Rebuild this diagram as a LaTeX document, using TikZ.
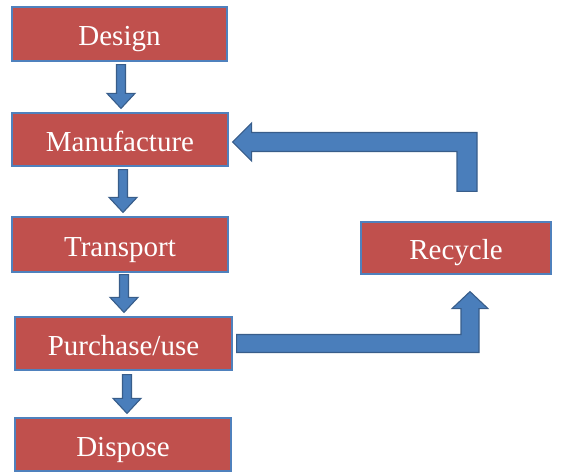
\documentclass[tikz,border=0pt]{standalone}
\usepackage{fontspec}
\setmainfont{Liberation Serif}
\usetikzlibrary{calc}
\definecolor{boxred}{HTML}{C0504D}
\definecolor{boxblue}{HTML}{4F81BD}
\definecolor{arrowfill}{HTML}{4A7EBB}
\definecolor{arrowline}{HTML}{385D8A}
\tikzset{
  stagebox/.style={draw=boxblue, line width=1.2pt, fill=boxred, text=white,
    inner sep=0pt, text height=26pt, text depth=3pt,
    font=\fontsize{29}{34}\selectfont},
  blockarrow/.style={draw=arrowline, fill=arrowfill, line width=1.1pt, line join=miter}
}
% #1 from node, #2 to node, #3 name of start coordinate (already placed)
\newcommand\downblock[3]{%
  \coordinate (#3e) at ($(#3|-#2.north)+(0,-4)$);
  \draw[blockarrow] ($(#3)+(-4.5,0)$) -- ($(#3)+(4.5,0)$)
    -- ($(#3e)+(4.5,-15)$) -- ($(#3e)+(14,-15)$)
    -- (#3e) -- ($(#3e)+(-14,-15)$)
    -- ($(#3e)+(-4.5,-15)$) -- cycle;}
\begin{document}
\begin{tikzpicture}[x=1pt,y=-1pt]
\useasboundingbox (0,0) rectangle (566,472);
\node[stagebox, minimum width=215pt, minimum height=54pt] (design) at (119.5,34) {Design};
\node[stagebox, minimum width=216pt, minimum height=53pt] (manu) at (120,139.5) {Manufacture};
\node[stagebox, minimum width=216pt, minimum height=55pt] (trans) at (120,244.5) {Transport};
\node[stagebox, minimum width=217pt, minimum height=53pt] (purch) at (123.5,343.5) {Purchase/use};
\node[stagebox, minimum width=216pt, minimum height=53pt] (disp) at (123,444.5) {Dispose};
\node[stagebox, minimum width=190pt, minimum height=52pt] (rec) at (456,248) {Recycle};
\coordinate (d1) at ($(design.south)+(1.5,3)$);
\downblock{design}{manu}{d1}
\coordinate (d2) at ($(manu.south)+(3,3)$);
\downblock{manu}{trans}{d2}
\coordinate (d3) at ($(trans.south)+(4,2)$);
\downblock{trans}{purch}{d3}
\coordinate (d4) at ($(purch.south)+(3.5,4)$);
\downblock{purch}{disp}{d4}
% Recycle -> Manufacture
\coordinate (ta) at ($(rec.north)+(11,-30)$);
\coordinate (tb) at ($(manu.east)+(4,2.5)$);
\draw[blockarrow] ($(ta)+(-10,0)$) -- ($(ta)+(10,0)$) -- ($(ta|-tb)+(10,-9.5)$)
  -- ($(tb)+(19,-9.5)$) -- ($(tb)+(19,-19)$) -- (tb) -- ($(tb)+(19,19)$)
  -- ($(tb)+(19,9.5)$) -- ($(ta|-tb)+(-10,9.5)$) -- cycle;
% Purchase/use -> Recycle
\coordinate (bs) at ($(purch.east)+(4,0)$);
\coordinate (be) at ($(rec.south)+(14,17)$);
\draw[blockarrow] ($(bs)+(0,-9)$) -- ($(be|-bs)+(-9,-9)$) -- ($(be)+(-9,17)$)
  -- ($(be)+(-18,17)$) -- (be) -- ($(be)+(18,17)$) -- ($(be)+(9,17)$)
  -- ($(be|-bs)+(9,9)$) -- ($(bs)+(0,9)$) -- cycle;
\end{tikzpicture}
\end{document}
